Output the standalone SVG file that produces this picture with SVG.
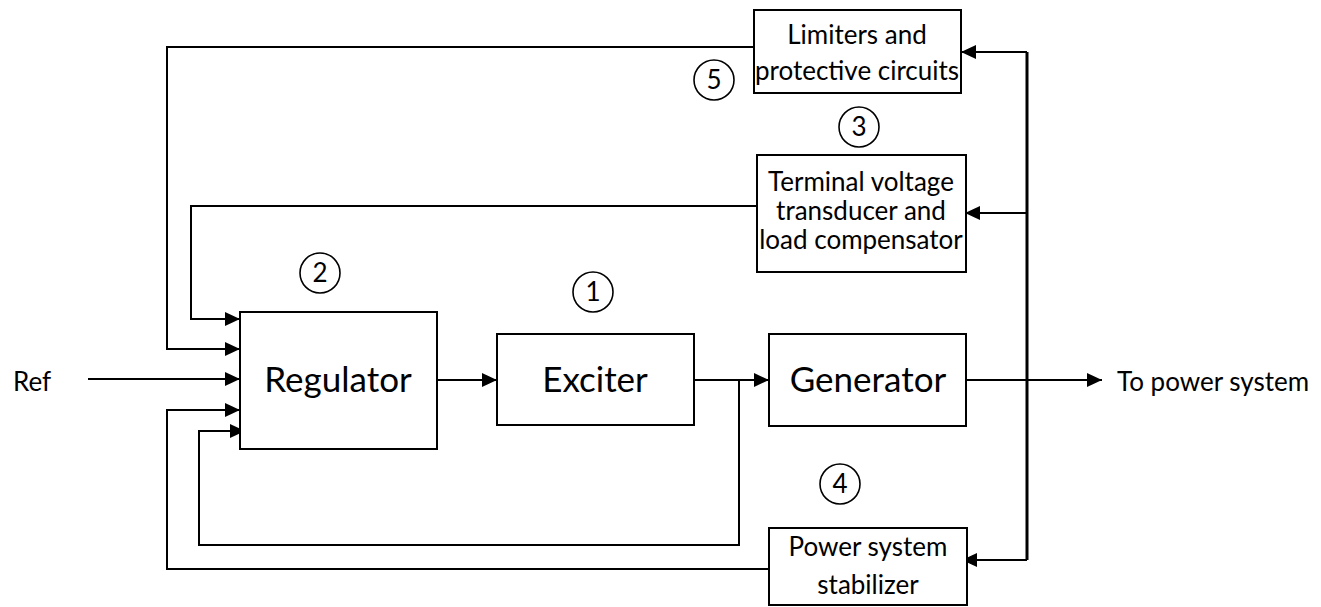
<svg xmlns="http://www.w3.org/2000/svg" width="1321" height="607" viewBox="0 0 1321 607">
<style>
  .box { fill: #ffffff; stroke: #000000; stroke-width: 2; }
  .ln { fill: none; stroke: #000000; stroke-width: 2; }
  .bus { fill: none; stroke: #000000; stroke-width: 3; }
  .num { fill: #ffffff; stroke: #000000; stroke-width: 1.6; }
  .big { font-family: Lato, "Liberation Sans", sans-serif; font-size: 35px; fill: #000; text-anchor: middle; }
  .sm { font-family: Lato, "Liberation Sans", sans-serif; font-size: 26px; fill: #000; text-anchor: middle; }
  .lbl { font-family: Lato, "Liberation Sans", sans-serif; font-size: 26px; fill: #000; }
  .nt { font-family: Lato, "Liberation Sans", sans-serif; font-size: 26px; fill: #000; text-anchor: middle; }
</style>
<defs>
  <marker id="arr" markerWidth="15" markerHeight="14" refX="15" refY="7" orient="auto" markerUnits="userSpaceOnUse">
    <path d="M0,0 L15,7 L0,14 Z" fill="#000"/>
  </marker>
</defs>
<rect width="1321" height="607" fill="#ffffff"/>

<g id="connectors">
  <line class="ln" x1="88" y1="379" x2="240" y2="379" marker-end="url(#arr)"/>
  <line class="ln" x1="437" y1="380" x2="497" y2="380" marker-end="url(#arr)"/>
  <line class="ln" x1="694" y1="380" x2="769" y2="380" marker-end="url(#arr)"/>
  <polyline class="ln" points="739,380 739,545 199,545 199,431 245,431" marker-end="url(#arr)"/>
  <line class="ln" x1="966" y1="380" x2="1102" y2="380" marker-end="url(#arr)"/>
  <polyline class="bus" points="1027,560 1027,52"/>
  <line class="ln" x1="1027" y1="52" x2="961" y2="52" marker-end="url(#arr)"/>
  <line class="ln" x1="1027" y1="213" x2="965" y2="213" marker-end="url(#arr)"/>
  <line class="ln" x1="1027" y1="560" x2="962" y2="560" marker-end="url(#arr)"/>
  <polyline class="ln" points="754,47 167,47 167,349 240,349" marker-end="url(#arr)"/>
  <polyline class="ln" points="757,206 191,206 191,319 240,319" marker-end="url(#arr)"/>
  <polyline class="ln" points="769,569 167,569 167,410 240,410" marker-end="url(#arr)"/>
</g>

<g id="regulator">
  <rect class="box" x="240" y="312" width="197" height="137"/>
  <text class="big" x="338" y="392">Regulator</text>
</g>
<g id="exciter">
  <rect class="box" x="497" y="334" width="197" height="91"/>
  <text class="big" x="595" y="392">Exciter</text>
</g>
<g id="generator">
  <rect class="box" x="769" y="334" width="197" height="92"/>
  <text class="big" x="868" y="392">Generator</text>
</g>
<g id="limiters">
  <rect class="box" x="754" y="10" width="207" height="83"/>
  <text class="sm" x="857" y="44">Limiters and</text>
  <text class="sm" x="857" y="80">protective circuits</text>
</g>
<g id="terminal">
  <rect class="box" x="757" y="155" width="209" height="117"/>
  <text class="sm" x="861" y="191">Terminal voltage</text>
  <text class="sm" x="861" y="220">transducer and</text>
  <text class="sm" x="861" y="249">load compensator</text>
</g>
<g id="pss">
  <rect class="box" x="769" y="528" width="198" height="77"/>
  <text class="sm" x="868" y="556">Power system</text>
  <text class="sm" x="868" y="594">stabilizer</text>
</g>
<g id="ref">
  <text class="lbl" x="13" y="391">Ref</text>
</g>
<g id="output">
  <text class="lbl" x="1117" y="391">To power system</text>
</g>

<g id="n1"><ellipse class="num" cx="593" cy="292" rx="20" ry="20"/><text class="nt" x="593" y="301">1</text></g>
<g id="n2"><ellipse class="num" cx="320" cy="273" rx="20" ry="20"/><text class="nt" x="320" y="282">2</text></g>
<g id="n3"><ellipse class="num" cx="859" cy="127" rx="20" ry="20"/><text class="nt" x="859" y="136">3</text></g>
<g id="n4"><ellipse class="num" cx="840" cy="484" rx="20" ry="20"/><text class="nt" x="840" y="493">4</text></g>
<g id="n5"><ellipse class="num" cx="714" cy="80" rx="20" ry="20"/><text class="nt" x="714" y="89">5</text></g>
</svg>
